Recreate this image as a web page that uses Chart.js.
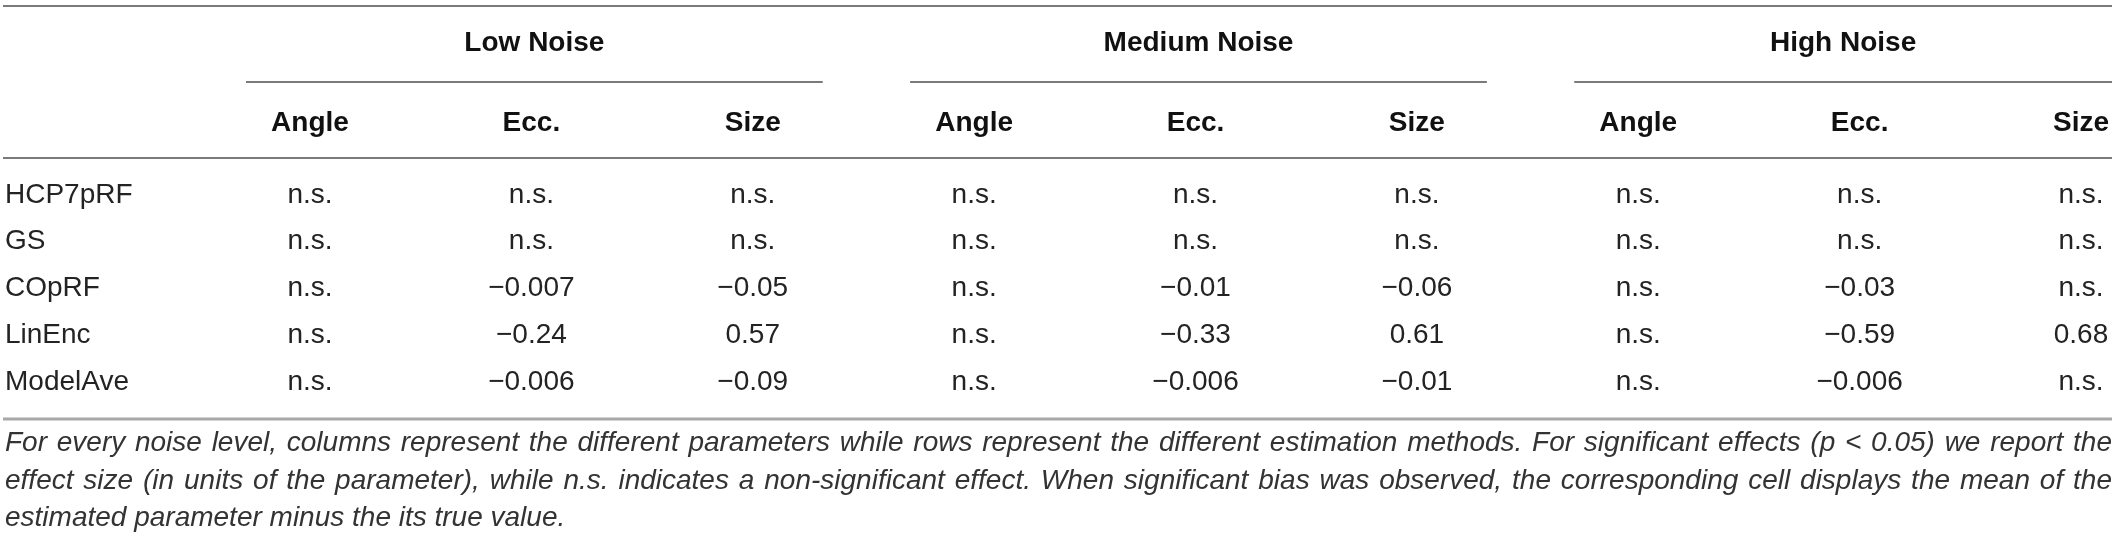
<!DOCTYPE html>
<html>
<head>
<meta charset="utf-8">
<script src="https://cdn.jsdelivr.net/npm/chart.js@4.4.1/dist/chart.umd.min.js"></script>
<style>
html,body{margin:0;padding:0;background:#fff;overflow:hidden}
#wrap{width:2117px;height:542px;position:relative}
</style>
</head>
<body>
<div id="wrap"><canvas id="c" width="2117" height="542"></canvas></div>
<script>
// ---------- data ----------
const methods = ['HCP7pRF', 'GS', 'COpRF', 'LinEnc', 'ModelAve'];
const noiseLevels = ['Low Noise', 'Medium Noise', 'High Noise'];
const parameters = ['Angle', 'Ecc.', 'Size'];

const lowAngle  = ['n.s.', 'n.s.', 'n.s.', 'n.s.', 'n.s.'];
const lowEcc    = ['n.s.', 'n.s.', '\u22120.007', '\u22120.24', '\u22120.006'];
const lowSize   = ['n.s.', 'n.s.', '\u22120.05', '0.57', '\u22120.09'];
const medAngle  = ['n.s.', 'n.s.', 'n.s.', 'n.s.', 'n.s.'];
const medEcc    = ['n.s.', 'n.s.', '\u22120.01', '\u22120.33', '\u22120.006'];
const medSize   = ['n.s.', 'n.s.', '\u22120.06', '0.61', '\u22120.01'];
const highAngle = ['n.s.', 'n.s.', 'n.s.', 'n.s.', 'n.s.'];
const highEcc   = ['n.s.', 'n.s.', '\u22120.03', '\u22120.59', '\u22120.006'];
const highSize  = ['n.s.', 'n.s.', 'n.s.', '0.68', 'n.s.'];

const captionLines = [
  'For every noise level, columns represent the different parameters while rows represent the different estimation methods. For significant effects (p < 0.05) we report the',
  'effect size (in units of the parameter), while n.s. indicates a non-significant effect. When significant bias was observed, the corresponding cell displays the mean of the',
  'estimated parameter minus the its true value.'
];

// ---------- build ----------
const columns = [lowAngle, lowEcc, lowSize, medAngle, medEcc, medSize, highAngle, highEcc, highSize];
const columnKeys = noiseLevels.flatMap(n => parameters.map(p => n + ' / ' + p));

const datasets = columns.map((vals, c) => ({
  label: columnKeys[c],
  data: methods.map((m, r) => ({ x: columnKeys[c], y: m, text: vals[r] })),
  pointRadius: 0,
  pointHoverRadius: 0,
  showLine: false
}));

const FONT = '"Liberation Sans", Arial, Helvetica, sans-serif';
const TEXT = '#232323';
const RULE = '#7a7a7a';

function drawJustified(ctx, text, x, y, width) {
  const words = text.split(' ');
  const wordsW = words.reduce((s, w) => s + ctx.measureText(w).width, 0);
  const gap = (width - wordsW) / (words.length - 1);
  const spaceW = ctx.measureText(' ').width;
  if (gap < spaceW * 0.7) {
    const natural = ctx.measureText(text).width;
    ctx.save();
    ctx.translate(x, y);
    ctx.scale(width / natural, 1);
    ctx.fillText(text, 0, 0);
    ctx.restore();
    return;
  }
  let cx = x;
  words.forEach(w => { ctx.fillText(w, cx, y); cx += ctx.measureText(w).width + gap; });
}

const tablePlugin = {
  id: 'tablePlugin',
  afterDraw(chart) {
    const ctx = chart.ctx;
    const xs = chart.scales.x;
    const area = chart.chartArea;
    const tableLeft = 3, tableRight = 2112;

    ctx.save();
    // cell values
    ctx.font = '28px ' + FONT;
    ctx.fillStyle = TEXT;
    ctx.textAlign = 'center';
    ctx.textBaseline = 'middle';
    chart.data.datasets.forEach((ds, di) => {
      const meta = chart.getDatasetMeta(di);
      meta.data.forEach((pt, i) => {
        ctx.fillText(ds.data[i].text, pt.x, pt.y);
      });
    });

    // rules
    function rule(y, x0, x1, color, w) {
      ctx.strokeStyle = color; ctx.lineWidth = w;
      ctx.beginPath(); ctx.moveTo(x0, y); ctx.lineTo(x1, y); ctx.stroke();
    }
    rule(6, tableLeft, tableRight, RULE, 2);
    rule(area.top - 37, tableLeft, tableRight, RULE, 2);
    rule(area.bottom + 37, tableLeft, tableRight, '#a8a8a8', 3);

    // group headers + underlines
    ctx.font = 'bold 28px ' + FONT;
    ctx.fillStyle = '#111';
    noiseLevels.forEach((g, gi) => {
      const x0 = xs.getPixelForValue(gi * 3) - 64;
      const x1 = Math.min(xs.getPixelForValue(gi * 3 + 2) + 70, tableRight);
      rule(82, x0, x1, RULE, 2);
      ctx.fillText(g, (x0 + x1) / 2, 43);
    });

    // caption
    ctx.font = 'italic 28px ' + FONT;
    ctx.fillStyle = '#333';
    ctx.textAlign = 'left';
    const capY = [443, 481, 518];
    captionLines.forEach((line, i) => {
      if (i < captionLines.length - 1) drawJustified(ctx, line, 5, capY[i], tableRight - 5);
      else ctx.fillText(line, 5, capY[i]);
    });
    ctx.restore();
  }
};

new Chart(document.getElementById('c'), {
  type: 'scatter',
  data: { datasets },
  options: {
    responsive: false,
    animation: false,
    devicePixelRatio: 1,
    events: [],
    layout: { padding: { left: 5, right: 36, top: 0, bottom: 160 } },
    plugins: { legend: { display: false }, tooltip: { enabled: false }, title: { display: false } },
    scales: {
      x: {
        type: 'category',
        labels: columnKeys,
        position: 'top',
        offset: false,
        grid: { display: false, drawTicks: false },
        border: { display: false },
        ticks: {
          padding: 55,
          autoSkip: false,
          maxRotation: 0,
          minRotation: 0,
          color: '#111',
          font: { family: FONT, size: 28, weight: 'bold' },
          callback: (v, i) => parameters[i % parameters.length]
        },
        afterFit: s => { s.height = 195; s.paddingLeft = 0; s.paddingRight = 0; }
      },
      y: {
        type: 'category',
        labels: methods,
        offset: false,
        grid: { display: false, drawTicks: false },
        border: { display: false },
        ticks: {
          crossAlign: 'far',
          padding: 0,
          autoSkip: false,
          color: TEXT,
          font: { family: FONT, size: 28 }
        },
        afterFit: s => { s.width = 305; s.paddingTop = 0; s.paddingBottom = 0; }
      }
    }
  },
  plugins: [tablePlugin]
});
</script>
</body>
</html>
